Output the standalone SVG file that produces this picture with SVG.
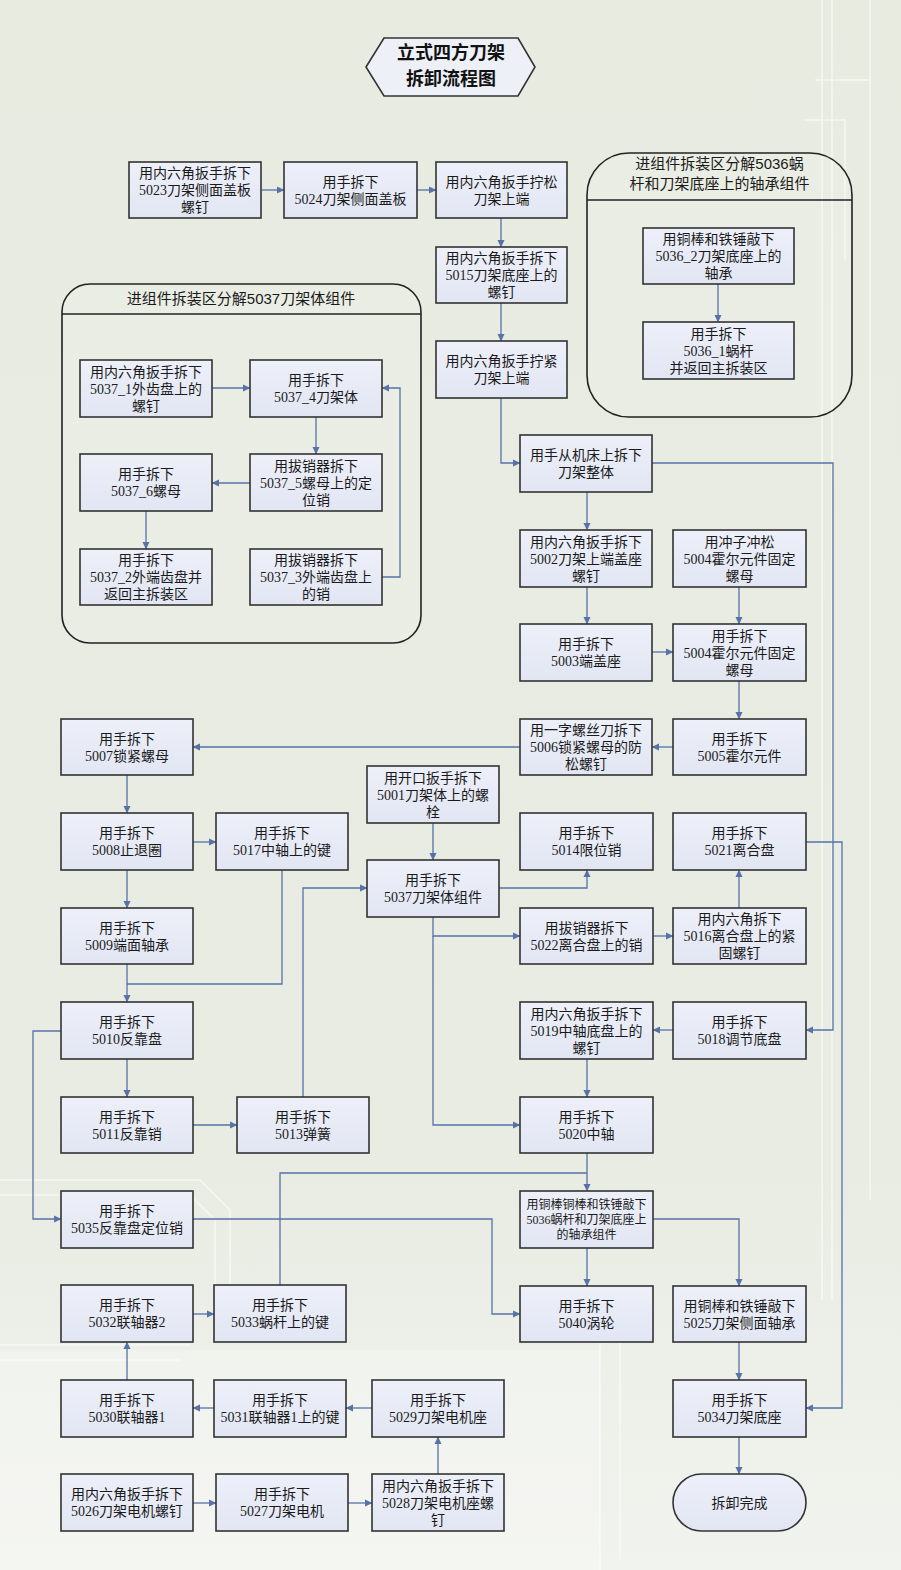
<svg xmlns="http://www.w3.org/2000/svg" width="901" height="1570" viewBox="0 0 901 1570">
<style>
.bx{fill:url(#bg);stroke:#333;stroke-width:1.6}
.t{font-family:"Liberation Serif","Noto Sans CJK SC",serif;font-size:14px;fill:#1a1a1a;text-anchor:middle}
.ts{font-family:"Liberation Serif","Noto Sans CJK SC",serif;font-size:12px;fill:#1a1a1a;text-anchor:middle}
.ct{font-family:"Liberation Sans","Noto Sans CJK SC",sans-serif;font-size:15px;fill:#1a1a1a;text-anchor:middle}
.tt{font-family:"Noto Sans CJK SC",sans-serif;font-size:18px;font-weight:bold;fill:#111;text-anchor:middle}
.cn{fill:rgba(255,255,255,0.12);stroke:#222;stroke-width:1.6}
.ln{fill:none;stroke:#5672a8;stroke-width:1.3}
.ar{marker-end:url(#ah)}
.deco{fill:none;stroke:#ffffff;stroke-opacity:0.45;stroke-width:2}
</style>
<defs>
<linearGradient id="bg" x1="0" y1="0" x2="0" y2="1">
<stop offset="0" stop-color="#edf0f9"/>
<stop offset="1" stop-color="#e2e6f3"/>
</linearGradient>
<linearGradient id="pg" x1="0" y1="0" x2="0" y2="1">
<stop offset="0" stop-color="#e8ebe0"/>
<stop offset="0.75" stop-color="#e9ece3"/>
<stop offset="1" stop-color="#f1f3ee"/>
</linearGradient>
<marker id="ah" markerWidth="8" markerHeight="8" refX="7" refY="4" orient="auto" markerUnits="userSpaceOnUse">
<path d="M0,0.5 L7.5,4 L0,7.5 Z" fill="#5672a8"/>
</marker>
</defs>
<rect x="0" y="0" width="901" height="1570" fill="url(#pg)"/>
<g id="decoration">
<path class="deco" d="M822,0 V1300 M832,0 V1300 M870,0 V1200 M815,80 H870 V200 M805,120 H845 V260"/>
<path class="deco" d="M0,1180 H200 L230,1210 V1330 M0,1195 H190 L215,1220 V1340 M600,1330 V1570 M620,1340 V1560 M0,1345 H190 M0,1360 H180"/>
<rect x="0" y="1350" width="600" height="220" fill="#ffffff" fill-opacity="0.25"/>
</g>
<g id="title">
<polygon points="366,67 384,38 518,38 535,67 518,96 384,96" fill="#eef0f8" stroke="#333" stroke-width="1.6"/>
<text class="tt" x="451" y="59">立式四方刀架</text>
<text class="tt" x="451" y="85">拆卸流程图</text>
</g>
<g id="container5037">
<rect class="cn" x="62" y="284" width="359" height="359" rx="28"/>
<line x1="62" y1="314" x2="421" y2="314" stroke="#222" stroke-width="1.6"/>
<text class="ct" x="241" y="304">进组件拆装区分解5037刀架体组件</text>
</g>
<g id="container5036">
<rect class="cn" x="587" y="153" width="265" height="264" rx="42"/>
<line x1="587" y1="200" x2="852" y2="200" stroke="#222" stroke-width="1.6"/>
<text class="ct" x="719.5" y="169">进组件拆装区分解5036蜗</text>
<text class="ct" x="719.5" y="189">杆和刀架底座上的轴承组件</text>
</g>
<g id="connectors">
<path class="ln ar" d="M262,190 H284"/>
<path class="ln ar" d="M417,190 H436"/>
<path class="ln ar" d="M501,218 V247"/>
<path class="ln ar" d="M501,303 V341"/>
<path class="ln ar" d="M501,398 V463 H520"/>
<path class="ln ar" d="M652,463 H833 V1030 H806"/>
<path class="ln ar" d="M587,492 V530"/>
<path class="ln ar" d="M587,587 V624"/>
<path class="ln ar" d="M739,587 V624"/>
<path class="ln ar" d="M652,652 H673"/>
<path class="ln ar" d="M739,681 V719"/>
<path class="ln ar" d="M673,747 H652"/>
<path class="ln ar" d="M520,747 H193"/>
<path class="ln ar" d="M127,775 V813"/>
<path class="ln ar" d="M193,842 H216"/>
<path class="ln ar" d="M127,870 V908"/>
<path class="ln ar" d="M127,964 V1002"/>
<path class="ln" d="M282,870 V984 H127"/>
<path class="ln ar" d="M433,823 V860"/>
<path class="ln ar" d="M303,1097 V888 H367"/>
<path class="ln ar" d="M499,888 H587 V870"/>
<path class="ln ar" d="M433,917 V936 H520"/>
<path class="ln ar" d="M433,936 V1125 H520"/>
<path class="ln ar" d="M653,936 H673"/>
<path class="ln ar" d="M739,908 V870"/>
<path class="ln ar" d="M806,842 H842 V1408 H806"/>
<path class="ln ar" d="M673,1030 H653"/>
<path class="ln ar" d="M587,1059 V1097"/>
<path class="ln ar" d="M127,1059 V1097"/>
<path class="ln ar" d="M193,1125 H237"/>
<path class="ln ar" d="M61,1031 H33 V1219 H61"/>
<path class="ln ar" d="M193,1219 H492 V1314 H520"/>
<path class="ln ar" d="M587,1153 V1191"/>
<path class="ln" d="M280,1285 V1173 H587"/>
<path class="ln ar" d="M587,1248 V1286"/>
<path class="ln ar" d="M653,1219 H739 V1286"/>
<path class="ln ar" d="M739,1342 V1380"/>
<path class="ln ar" d="M739,1437 V1474"/>
<path class="ln ar" d="M193,1314 H214"/>
<path class="ln ar" d="M127,1380 V1342"/>
<path class="ln ar" d="M214,1408 H193"/>
<path class="ln ar" d="M372,1408 H346"/>
<path class="ln ar" d="M193,1503 H216"/>
<path class="ln ar" d="M348,1503 H372"/>
<path class="ln ar" d="M438,1474 V1437"/>
<path class="ln ar" d="M212,388 H250"/>
<path class="ln ar" d="M316,417 V454"/>
<path class="ln ar" d="M250,483 H212"/>
<path class="ln ar" d="M146,511 V549"/>
<path class="ln ar" d="M382,577 H400 V388 H382"/>
<path class="ln ar" d="M718,284 V322"/>
</g>
<g id="n5023"><rect class="bx" x="129" y="162" width="132" height="56"/><text class="t"><tspan x="195" y="178">用内六角扳手拆下</tspan><tspan x="195" y="195">5023刀架侧面盖板</tspan><tspan x="195" y="212">螺钉</tspan></text></g>
<g id="n5024"><rect class="bx" x="284" y="162" width="133" height="56"/><text class="t"><tspan x="350.5" y="186.5">用手拆下</tspan><tspan x="350.5" y="203.5">5024刀架侧面盖板</tspan></text></g>
<g id="nLoosen"><rect class="bx" x="436" y="162" width="131" height="56"/><text class="t"><tspan x="501.5" y="186.5">用内六角扳手拧松</tspan><tspan x="501.5" y="203.5">刀架上端</tspan></text></g>
<g id="n5015"><rect class="bx" x="436" y="247" width="131" height="56"/><text class="t"><tspan x="501.5" y="263">用内六角扳手拆下</tspan><tspan x="501.5" y="280">5015刀架底座上的</tspan><tspan x="501.5" y="297">螺钉</tspan></text></g>
<g id="nTighten"><rect class="bx" x="436" y="341" width="131" height="57"/><text class="t"><tspan x="501.5" y="366">用内六角扳手拧紧</tspan><tspan x="501.5" y="383">刀架上端</tspan></text></g>
<g id="nWhole"><rect class="bx" x="520" y="435" width="132" height="57"/><text class="t"><tspan x="586" y="460">用手从机床上拆下</tspan><tspan x="586" y="477">刀架整体</tspan></text></g>
<g id="n5036_2"><rect class="bx" x="643" y="228" width="151" height="56"/><text class="t"><tspan x="718.5" y="244">用铜棒和铁锤敲下</tspan><tspan x="718.5" y="261">5036_2刀架底座上的</tspan><tspan x="718.5" y="278">轴承</tspan></text></g>
<g id="n5036_1"><rect class="bx" x="643" y="322" width="151" height="57"/><text class="t"><tspan x="718.5" y="338.5">用手拆下</tspan><tspan x="718.5" y="355.5">5036_1蜗杆</tspan><tspan x="718.5" y="372.5">并返回主拆装区</tspan></text></g>
<g id="n5037_1"><rect class="bx" x="80" y="360" width="132" height="57"/><text class="t"><tspan x="146" y="376.5">用内六角扳手拆下</tspan><tspan x="146" y="393.5">5037_1外齿盘上的</tspan><tspan x="146" y="410.5">螺钉</tspan></text></g>
<g id="n5037_4"><rect class="bx" x="250" y="360" width="132" height="57"/><text class="t"><tspan x="316" y="385">用手拆下</tspan><tspan x="316" y="402">5037_4刀架体</tspan></text></g>
<g id="n5037_5"><rect class="bx" x="250" y="454" width="132" height="57"/><text class="t"><tspan x="316" y="470.5">用拔销器拆下</tspan><tspan x="316" y="487.5">5037_5螺母上的定</tspan><tspan x="316" y="504.5">位销</tspan></text></g>
<g id="n5037_6"><rect class="bx" x="80" y="454" width="132" height="57"/><text class="t"><tspan x="146" y="479">用手拆下</tspan><tspan x="146" y="496">5037_6螺母</tspan></text></g>
<g id="n5037_2"><rect class="bx" x="80" y="549" width="132" height="56"/><text class="t"><tspan x="146" y="565">用手拆下</tspan><tspan x="146" y="582">5037_2外端齿盘并</tspan><tspan x="146" y="599">返回主拆装区</tspan></text></g>
<g id="n5037_3"><rect class="bx" x="250" y="549" width="132" height="56"/><text class="t"><tspan x="316" y="565">用拔销器拆下</tspan><tspan x="316" y="582">5037_3外端齿盘上</tspan><tspan x="316" y="599">的销</tspan></text></g>
<g id="n5002"><rect class="bx" x="520" y="530" width="132" height="57"/><text class="t"><tspan x="586" y="546.5">用内六角扳手拆下</tspan><tspan x="586" y="563.5">5002刀架上端盖座</tspan><tspan x="586" y="580.5">螺钉</tspan></text></g>
<g id="n5004a"><rect class="bx" x="673" y="530" width="133" height="57"/><text class="t"><tspan x="739.5" y="546.5">用冲子冲松</tspan><tspan x="739.5" y="563.5">5004霍尔元件固定</tspan><tspan x="739.5" y="580.5">螺母</tspan></text></g>
<g id="n5003"><rect class="bx" x="520" y="624" width="132" height="57"/><text class="t"><tspan x="586" y="649">用手拆下</tspan><tspan x="586" y="666">5003端盖座</tspan></text></g>
<g id="n5004b"><rect class="bx" x="673" y="624" width="133" height="57"/><text class="t"><tspan x="739.5" y="640.5">用手拆下</tspan><tspan x="739.5" y="657.5">5004霍尔元件固定</tspan><tspan x="739.5" y="674.5">螺母</tspan></text></g>
<g id="n5006"><rect class="bx" x="520" y="719" width="132" height="56"/><text class="t"><tspan x="586" y="735">用一字螺丝刀拆下</tspan><tspan x="586" y="752">5006锁紧螺母的防</tspan><tspan x="586" y="769">松螺钉</tspan></text></g>
<g id="n5005"><rect class="bx" x="673" y="719" width="133" height="56"/><text class="t"><tspan x="739.5" y="743.5">用手拆下</tspan><tspan x="739.5" y="760.5">5005霍尔元件</tspan></text></g>
<g id="n5007"><rect class="bx" x="61" y="719" width="132" height="56"/><text class="t"><tspan x="127" y="743.5">用手拆下</tspan><tspan x="127" y="760.5">5007锁紧螺母</tspan></text></g>
<g id="n5001"><rect class="bx" x="367" y="766" width="132" height="57"/><text class="t"><tspan x="433" y="782.5">用开口扳手拆下</tspan><tspan x="433" y="799.5">5001刀架体上的螺</tspan><tspan x="433" y="816.5">栓</tspan></text></g>
<g id="n5008"><rect class="bx" x="61" y="813" width="132" height="57"/><text class="t"><tspan x="127" y="838">用手拆下</tspan><tspan x="127" y="855">5008止退圈</tspan></text></g>
<g id="n5017"><rect class="bx" x="216" y="813" width="132" height="57"/><text class="t"><tspan x="282" y="838">用手拆下</tspan><tspan x="282" y="855">5017中轴上的键</tspan></text></g>
<g id="n5014"><rect class="bx" x="520" y="813" width="133" height="57"/><text class="t"><tspan x="586.5" y="838">用手拆下</tspan><tspan x="586.5" y="855">5014限位销</tspan></text></g>
<g id="n5021"><rect class="bx" x="673" y="813" width="133" height="57"/><text class="t"><tspan x="739.5" y="838">用手拆下</tspan><tspan x="739.5" y="855">5021离合盘</tspan></text></g>
<g id="n5037"><rect class="bx" x="367" y="860" width="132" height="57"/><text class="t"><tspan x="433" y="885">用手拆下</tspan><tspan x="433" y="902">5037刀架体组件</tspan></text></g>
<g id="n5009"><rect class="bx" x="61" y="908" width="132" height="56"/><text class="t"><tspan x="127" y="932.5">用手拆下</tspan><tspan x="127" y="949.5">5009端面轴承</tspan></text></g>
<g id="n5022"><rect class="bx" x="520" y="908" width="133" height="56"/><text class="t"><tspan x="586.5" y="932.5">用拔销器拆下</tspan><tspan x="586.5" y="949.5">5022离合盘上的销</tspan></text></g>
<g id="n5016"><rect class="bx" x="673" y="908" width="133" height="56"/><text class="t"><tspan x="739.5" y="924">用内六角拆下</tspan><tspan x="739.5" y="941">5016离合盘上的紧</tspan><tspan x="739.5" y="958">固螺钉</tspan></text></g>
<g id="n5010"><rect class="bx" x="61" y="1002" width="132" height="57"/><text class="t"><tspan x="127" y="1027">用手拆下</tspan><tspan x="127" y="1044">5010反靠盘</tspan></text></g>
<g id="n5019"><rect class="bx" x="520" y="1002" width="133" height="57"/><text class="t"><tspan x="586.5" y="1018.5">用内六角扳手拆下</tspan><tspan x="586.5" y="1035.5">5019中轴底盘上的</tspan><tspan x="586.5" y="1052.5">螺钉</tspan></text></g>
<g id="n5018"><rect class="bx" x="673" y="1002" width="133" height="57"/><text class="t"><tspan x="739.5" y="1027">用手拆下</tspan><tspan x="739.5" y="1044">5018调节底盘</tspan></text></g>
<g id="n5011"><rect class="bx" x="61" y="1097" width="132" height="56"/><text class="t"><tspan x="127" y="1121.5">用手拆下</tspan><tspan x="127" y="1138.5">5011反靠销</tspan></text></g>
<g id="n5013"><rect class="bx" x="237" y="1097" width="132" height="56"/><text class="t"><tspan x="303" y="1121.5">用手拆下</tspan><tspan x="303" y="1138.5">5013弹簧</tspan></text></g>
<g id="n5020"><rect class="bx" x="520" y="1097" width="133" height="56"/><text class="t"><tspan x="586.5" y="1121.5">用手拆下</tspan><tspan x="586.5" y="1138.5">5020中轴</tspan></text></g>
<g id="n5035"><rect class="bx" x="61" y="1191" width="132" height="57"/><text class="t"><tspan x="127" y="1216">用手拆下</tspan><tspan x="127" y="1233">5035反靠盘定位销</tspan></text></g>
<g id="n5036"><rect class="bx" x="520" y="1191" width="133" height="57"/><text class="ts"><tspan x="586.5" y="1208.5">用铜棒铜棒和铁锤敲下</tspan><tspan x="586.5" y="1223.5">5036蜗杆和刀架底座上</tspan><tspan x="586.5" y="1238.5">的轴承组件</tspan></text></g>
<g id="n5032"><rect class="bx" x="61" y="1285" width="132" height="57"/><text class="t"><tspan x="127" y="1310">用手拆下</tspan><tspan x="127" y="1327">5032联轴器2</tspan></text></g>
<g id="n5033"><rect class="bx" x="214" y="1285" width="132" height="57"/><text class="t"><tspan x="280" y="1310">用手拆下</tspan><tspan x="280" y="1327">5033蜗杆上的键</tspan></text></g>
<g id="n5040"><rect class="bx" x="520" y="1286" width="133" height="56"/><text class="t"><tspan x="586.5" y="1310.5">用手拆下</tspan><tspan x="586.5" y="1327.5">5040涡轮</tspan></text></g>
<g id="n5025"><rect class="bx" x="673" y="1286" width="133" height="56"/><text class="t"><tspan x="739.5" y="1310.5">用铜棒和铁锤敲下</tspan><tspan x="739.5" y="1327.5">5025刀架侧面轴承</tspan></text></g>
<g id="n5030"><rect class="bx" x="61" y="1380" width="132" height="57"/><text class="t"><tspan x="127" y="1405">用手拆下</tspan><tspan x="127" y="1422">5030联轴器1</tspan></text></g>
<g id="n5031"><rect class="bx" x="214" y="1380" width="132" height="57"/><text class="t"><tspan x="280" y="1405">用手拆下</tspan><tspan x="280" y="1422">5031联轴器1上的键</tspan></text></g>
<g id="n5029"><rect class="bx" x="372" y="1380" width="132" height="57"/><text class="t"><tspan x="438" y="1405">用手拆下</tspan><tspan x="438" y="1422">5029刀架电机座</tspan></text></g>
<g id="n5034"><rect class="bx" x="673" y="1380" width="133" height="57"/><text class="t"><tspan x="739.5" y="1405">用手拆下</tspan><tspan x="739.5" y="1422">5034刀架底座</tspan></text></g>
<g id="n5026"><rect class="bx" x="61" y="1474" width="132" height="57"/><text class="t"><tspan x="127" y="1499">用内六角扳手拆下</tspan><tspan x="127" y="1516">5026刀架电机螺钉</tspan></text></g>
<g id="n5027"><rect class="bx" x="216" y="1474" width="132" height="57"/><text class="t"><tspan x="282" y="1499">用手拆下</tspan><tspan x="282" y="1516">5027刀架电机</tspan></text></g>
<g id="n5028"><rect class="bx" x="372" y="1474" width="132" height="57"/><text class="t"><tspan x="438" y="1490.5">用内六角扳手拆下</tspan><tspan x="438" y="1507.5">5028刀架电机座螺</tspan><tspan x="438" y="1524.5">钉</tspan></text></g>
<g id="nDone"><rect class="bx" x="673" y="1474" width="133" height="57" rx="28.5"/><text class="t" x="739.5" y="1507.5">拆卸完成</text></g>
</svg>
